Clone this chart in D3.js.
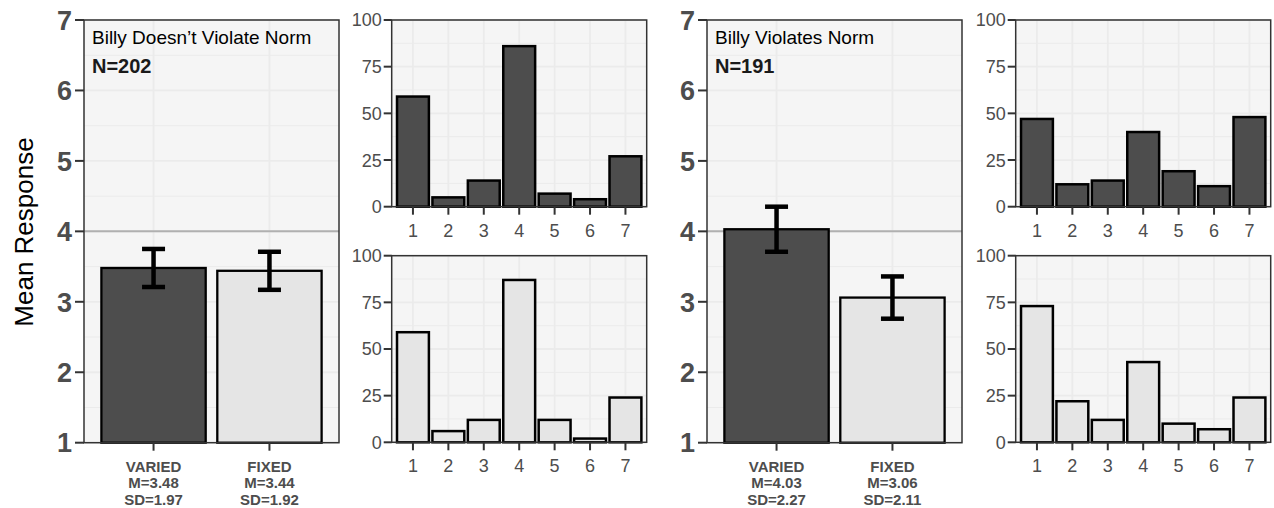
<!DOCTYPE html>
<html>
<head>
<meta charset="utf-8">
<script src="https://cdn.jsdelivr.net/npm/d3@7"></script>
<style>
  body { margin: 0; background: #fff; }
  svg { font-family: "Liberation Sans", Arial, sans-serif; }
</style>
</head>
<body>
<div id="chart"></div>
<script>
// Mean response per condition + response histograms, two scenarios

const groups = ["Billy Doesn’t Violate Norm", "Billy Violates Norm"];
const groupN = [202, 191];
const conditions = ["VARIED", "FIXED"];
const means = [[3.48, 3.44], [4.03, 3.06]];
const sds = [[1.97, 1.92], [2.27, 2.11]];
const ciHalf = [[0.27, 0.27], [0.32, 0.30]];
const responses = ["1", "2", "3", "4", "5", "6", "7"];
const countsVaried = [[59, 5, 14, 86, 7, 4, 27], [47, 12, 14, 40, 19, 11, 48]];
const countsFixed = [[59, 6, 12, 87, 12, 2, 24], [73, 22, 12, 43, 10, 7, 24]];
const meanTicks = [1, 2, 3, 4, 5, 6, 7];
const countTicks = [0, 25, 50, 75, 100];
const refLine = 4;

const fills = ["#4d4d4d", "#e5e5e5"];
const bg = "#f5f5f5", grid = "#ebebeb", axisCol = "#333333", textCol = "#4d4d4d";

const svg = d3.select("#chart")
  .append("svg")
  .attr("width", 1274)
  .attr("height", 508);

// y title
svg.append("text")
  .attr("transform", "translate(33,232) rotate(-90)")
  .attr("text-anchor", "middle")
  .attr("font-size", 26)
  .attr("fill", "#000")
  .text("Mean Response");

const mainLeft = [84, 707];
const histLeft = [391.7, 1015.7];
const panelW = 255;
const mainTop = 20, mainBottom = 442.7;
const histRows = [[20, 206.7], [255.7, 442.3]];

function frame(g, x0, y0, w, h) {
  g.append("rect").attr("x", x0).attr("y", y0).attr("width", w).attr("height", h)
    .attr("fill", bg);
}
function border(g, x0, y0, w, h) {
  g.append("rect").attr("x", x0).attr("y", y0).attr("width", w).attr("height", h)
    .attr("fill", "none").attr("stroke", axisCol).attr("stroke-width", 1.5);
}

groups.forEach((title, gi) => {
  const g = svg.append("g");
  const x0 = mainLeft[gi];

  // ---- main mean panel ----
  // discrete axis, 0.6 expansion on each side like ggplot
  const step = panelW / (conditions.length + 0.2);
  const cx = c => x0 + (conditions.indexOf(c) + 0.6) * step;
  const y = d3.scaleLinear().domain([1, 7]).range([mainBottom, mainTop]);

  frame(g, x0, mainTop, panelW, mainBottom - mainTop);

  // minor + major grid
  d3.range(1.5, 7, 1).forEach(v => {
    g.append("line").attr("x1", x0).attr("x2", x0 + panelW)
      .attr("y1", y(v)).attr("y2", y(v)).attr("stroke", grid).attr("stroke-width", 1);
  });
  meanTicks.forEach(v => {
    g.append("line").attr("x1", x0).attr("x2", x0 + panelW)
      .attr("y1", y(v)).attr("y2", y(v)).attr("stroke", grid).attr("stroke-width", 1.8);
  });
  conditions.forEach(c => {
    g.append("line").attr("x1", cx(c)).attr("x2", cx(c))
      .attr("y1", mainTop).attr("y2", mainBottom).attr("stroke", grid).attr("stroke-width", 1.8);
  });

  g.append("line").attr("x1", x0).attr("x2", x0 + panelW)
    .attr("y1", y(refLine)).attr("y2", y(refLine))
    .attr("stroke", "#b0b0b0").attr("stroke-width", 2);

  const bw = step * 0.9;
  g.selectAll("rect.bar").data(conditions).join("rect")
    .attr("class", "bar")
    .attr("x", c => cx(c) - bw / 2)
    .attr("width", bw)
    .attr("y", (c, i) => y(means[gi][i]))
    .attr("height", (c, i) => mainBottom - y(means[gi][i]))
    .attr("fill", (c, i) => fills[i])
    .attr("stroke", "#000").attr("stroke-width", 2.3);

  // error bars
  const eb = g.selectAll("g.eb").data(conditions).join("g").attr("class", "eb");
  eb.append("line")
    .attr("x1", c => cx(c)).attr("x2", c => cx(c))
    .attr("y1", (c, i) => y(means[gi][i] + ciHalf[gi][i]))
    .attr("y2", (c, i) => y(means[gi][i] - ciHalf[gi][i]))
    .attr("stroke", "#000").attr("stroke-width", 4.5);
  [1, -1].forEach(s => {
    eb.append("line")
      .attr("x1", c => cx(c) - 11.5).attr("x2", c => cx(c) + 11.5)
      .attr("y1", (c, i) => y(means[gi][i] + s * ciHalf[gi][i]))
      .attr("y2", (c, i) => y(means[gi][i] + s * ciHalf[gi][i]))
      .attr("stroke", "#000").attr("stroke-width", 4.5);
  });

  border(g, x0, mainTop, panelW, mainBottom - mainTop);

  // y axis
  meanTicks.forEach(v => {
    g.append("line").attr("x1", x0 - 9).attr("x2", x0)
      .attr("y1", y(v)).attr("y2", y(v)).attr("stroke", axisCol).attr("stroke-width", 2);
    g.append("text").attr("x", x0 - 12).attr("y", y(v)).attr("dy", "0.36em")
      .attr("text-anchor", "end").attr("font-size", 27).attr("font-weight", "bold")
      .attr("fill", textCol).text(v);
  });
  // x axis
  conditions.forEach((c, i) => {
    g.append("line").attr("x1", cx(c)).attr("x2", cx(c))
      .attr("y1", mainBottom).attr("y2", mainBottom + 8)
      .attr("stroke", axisCol).attr("stroke-width", 2);
    const lines = [c, `M=${means[gi][i].toFixed(2)}`, `SD=${sds[gi][i].toFixed(2)}`];
    lines.forEach((t, li) => {
      g.append("text").attr("x", cx(c)).attr("y", 471.5 + li * 16.7)
        .attr("text-anchor", "middle").attr("font-size", 15).attr("font-weight", "bold")
        .attr("fill", textCol).text(t);
    });
  });

  g.append("text").attr("x", x0 + 8).attr("y", 44)
    .attr("font-size", 19).attr("fill", "#000").text(title);
  g.append("text").attr("x", x0 + 8).attr("y", 73)
    .attr("font-size", 20).attr("font-weight", "bold").attr("fill", "#1a1a1a")
    .text(`N=${groupN[gi]}`);

  // ---- histograms ----
  [countsVaried[gi], countsFixed[gi]].forEach((counts, ri) => {
    const hx0 = histLeft[gi];
    const [top, bottom] = histRows[ri];
    const hstep = panelW / (responses.length + 0.2);
    const hx = r => hx0 + (responses.indexOf(r) + 0.6) * hstep;
    const hy = d3.scaleLinear().domain([0, 100]).range([bottom, top]);
    const h = svg.append("g");

    frame(h, hx0, top, panelW, bottom - top);
    d3.range(12.5, 100, 25).forEach(v => {
      h.append("line").attr("x1", hx0).attr("x2", hx0 + panelW)
        .attr("y1", hy(v)).attr("y2", hy(v)).attr("stroke", grid).attr("stroke-width", 1);
    });
    countTicks.forEach(v => {
      h.append("line").attr("x1", hx0).attr("x2", hx0 + panelW)
        .attr("y1", hy(v)).attr("y2", hy(v)).attr("stroke", grid).attr("stroke-width", 1.8);
    });
    responses.forEach(r => {
      h.append("line").attr("x1", hx(r)).attr("x2", hx(r))
        .attr("y1", top).attr("y2", bottom).attr("stroke", grid).attr("stroke-width", 1.8);
    });

    const hbw = hstep * 0.9;
    h.selectAll("rect.hbar").data(responses).join("rect")
      .attr("class", "hbar")
      .attr("x", r => hx(r) - hbw / 2)
      .attr("width", hbw)
      .attr("y", (r, i) => hy(counts[i]))
      .attr("height", (r, i) => bottom - hy(counts[i]))
      .attr("fill", fills[ri])
      .attr("stroke", "#000").attr("stroke-width", 2.5);

    border(h, hx0, top, panelW, bottom - top);

    countTicks.forEach(v => {
      h.append("line").attr("x1", hx0 - 8).attr("x2", hx0)
        .attr("y1", hy(v)).attr("y2", hy(v)).attr("stroke", axisCol).attr("stroke-width", 2);
      h.append("text").attr("x", hx0 - 10).attr("y", hy(v)).attr("dy", "0.36em")
        .attr("text-anchor", "end").attr("font-size", 18)
        .attr("fill", textCol).text(v);
    });
    responses.forEach(r => {
      h.append("line").attr("x1", hx(r)).attr("x2", hx(r))
        .attr("y1", bottom).attr("y2", bottom + 8)
        .attr("stroke", axisCol).attr("stroke-width", 2);
      h.append("text").attr("x", hx(r)).attr("y", bottom + 30)
        .attr("text-anchor", "middle").attr("font-size", 18)
        .attr("fill", textCol).text(r);
    });
  });
});
</script>
</body>
</html>
